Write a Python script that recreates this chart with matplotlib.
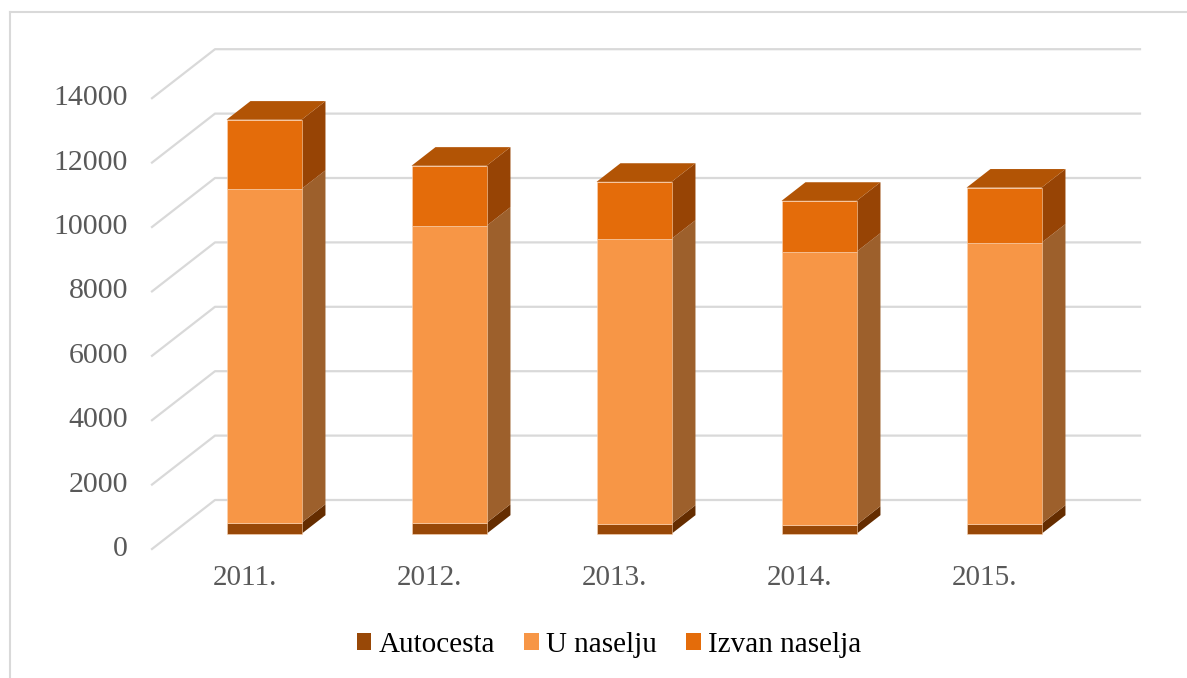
import matplotlib.pyplot as plt
from matplotlib.patches import Polygon, Patch
from matplotlib.lines import Line2D

years = ['2011.', '2012.', '2013.', '2014.', '2015.']
autocesta = [340, 340, 310, 280, 310]
u_naselju = [10370, 9225, 8850, 8480, 8730]
izvan_naselja = [2150, 1865, 1770, 1580, 1710]
series_names = ['Autocesta', 'U naselju', 'Izvan naselja']
yticks = [0, 2000, 4000, 6000, 8000, 10000, 12000, 14000]

# face colours: front, side, top
front_c = ['#984807', '#F79646', '#E46C0A']
side_c = ['#652D00', '#9D602C', '#974405']
top_c = ['#B25405', '#B25405', '#B25405']

W, H = 1187, 678
fig = plt.figure(figsize=(W / 100, H / 100), dpi=100)
ax = fig.add_axes([0, 0, 1, 1])
ax.axis('off')

# layout of the fake 3d box (pixels)
x0_px, cat_px = 152, 185      # front-left corner, width of one category
y0_px, ppu = 549, 0.0322      # front zero line, pixels per value unit
ax.set_xlim(-x0_px / cat_px, (W - x0_px) / cat_px)
ax.set_ylim(-(H - y0_px) / ppu, y0_px / ppu)

DX = 63 / cat_px     # full depth in category units
DY = 49 / ppu        # full depth in value units
d0, d1 = 0.31, 0.69  # bar depth range
bw = 75 / cat_px     # bar width

grid = '#D9D9D9'
n = len(years)
for v in yticks:
    ax.plot([0, DX, n + DX], [v, v + DY, v + DY], color=grid, lw=1.6, zorder=1)
    ax.text(-24 / cat_px, v, str(v), ha='right', va='center',
            fontsize=21.5, color='#595959', family='Liberation Serif')

for i, yr in enumerate(years):
    ax.text(i + 0.5, -900, yr, ha='center', va='center',
            fontsize=21, color='#595959', family='Liberation Serif')
    vals = [autocesta[i], u_naselju[i], izvan_naselja[i]]
    xl = i + 0.5 - bw / 2
    xr = xl + bw
    bottom = 0
    for k, v in enumerate(vals):
        top = bottom + v
        fx, fy = d0 * DX, d0 * DY
        bx, by = d1 * DX, d1 * DY
        side = [(xr + fx, bottom + fy), (xr + bx, bottom + by),
                (xr + bx, top + by), (xr + fx, top + fy)]
        front = [(xl + fx, bottom + fy), (xr + fx, bottom + fy),
                 (xr + fx, top + fy), (xl + fx, top + fy)]
        ax.add_patch(Polygon(side, closed=True, fc=side_c[k], ec='none', zorder=3))
        ax.add_patch(Polygon(front, closed=True, fc=front_c[k], ec='#FBD5B5',
                             lw=0.4, zorder=3))
        if k == len(vals) - 1:
            topf = [(xl + fx, top + fy), (xr + fx, top + fy),
                    (xr + bx, top + by), (xl + bx, top + by)]
            ax.add_patch(Polygon(topf, closed=True, fc=top_c[k], ec='none', zorder=3))
        bottom = top

handles = [Patch(fc=c, ec='none') for c in front_c]
fig.legend(handles, series_names, loc='center', bbox_to_anchor=(0.513, 1 - 645 / H),
           ncol=3, frameon=False, handlelength=0.5, handleheight=0.5,
           handletextpad=0.25, columnspacing=1.0,
           prop={'family': 'Liberation Serif', 'size': 21})

# chart border (left and top visible)
fig.add_artist(Line2D([10 / W, 10 / W], [0, 1 - 12 / H], color=grid, lw=1.5))
fig.add_artist(Line2D([10 / W, 1], [1 - 12 / H, 1 - 12 / H], color=grid, lw=1.5))

fig.savefig('out.png', dpi=100)
